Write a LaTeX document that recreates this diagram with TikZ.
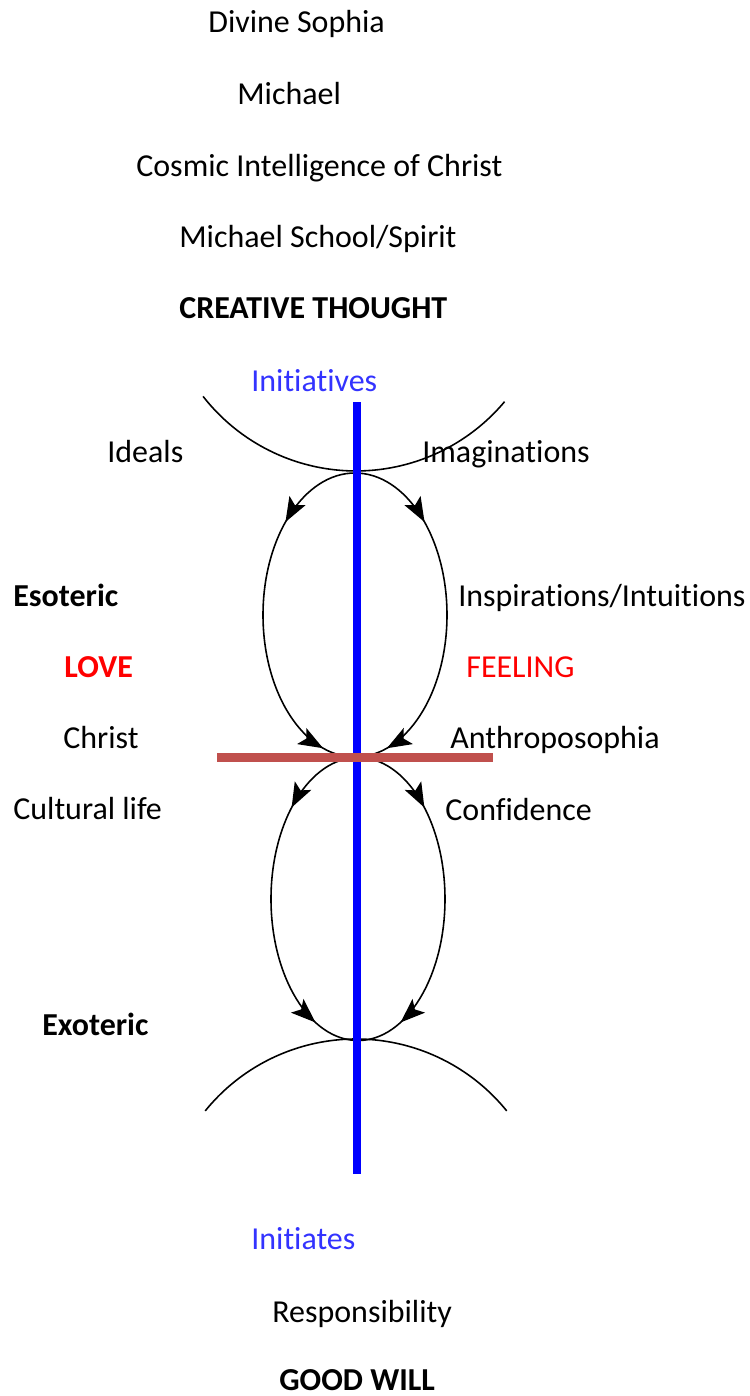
\documentclass[tikz,border=0pt]{standalone}
\usepackage{fontspec}
\setmainfont{Carlito}[Ligatures=NoCommon]
\usetikzlibrary{arrows.meta, decorations.markings}

\definecolor{initblue}{RGB}{51,51,255}
\definecolor{axisblue}{RGB}{0,0,255}
\definecolor{barred}{RGB}{192,80,77}

\begin{document}
\begin{tikzpicture}[x=0.02cm, y=-0.02cm,
    >={Stealth[length=14pt, width=10.5pt, inset=3pt]},
    lbl/.style={anchor=base west, inner sep=0pt, font=\fontsize{18.2}{21}\selectfont},
    bold/.style={lbl, font=\fontsize{18.2}{21}\selectfont\bfseries},
    loopline/.style={line width=0.9pt, postaction={decorate}},
    thinarc/.style={line width=0.9pt}]
    \useasboundingbox (0,0) rectangle (750,1396);

    % top column
    \node [lbl] (divsophia) at (208,32) {Divine Sophia};
    \node [lbl] (michael) at (237,104) {Michael};
    \node [lbl] (cosmic) at (136,176) {Cosmic Intelligence of Christ};
    \node [lbl] (school) at (179,247) {Michael School/Spirit};
    \node [bold] (creative) at (179,318) {CREATIVE THOUGHT};
    \node [lbl, text=initblue] (initiatives) at (251,391) {Initiatives};

    % left side
    \node [lbl] (ideals) at (107,462) {Ideals};
    \node [bold] (esoteric) at (13,606) {Esoteric};
    \node [bold, text=red] (love) at (64,677) {LOVE};
    \node [lbl] (christ) at (63,748) {Christ};
    \node [lbl] (cultural) at (13,819) {Cultural life};
    \node [bold] (exoteric) at (42,1035) {Exoteric};

    % right side
    \node [lbl] (imaginations) at (422,462) {Imaginations};
    \node [lbl] (inspirations) at (458,606) {Inspirations/Intuitions};
    \node [lbl, text=red] (feeling) at (466,677) {FEELING};
    \node [lbl] (anthro) at (450,748) {Anthroposophia};
    \node [lbl] (confidence) at (445,820) {Confidence};

    % bottom column
    \node [lbl, text=initblue] (initiates) at (251,1249) {Initiates};
    \node [lbl] (responsib) at (272,1322) {Responsibility};
    \node [bold] (goodwill) at (279,1390) {GOOD WILL};

    % points on the figure
    \coordinate (uptop) at (355,473);
    \coordinate (lowtop) at (358,757.5);
    \coordinate (arcTL) at (203.1,396.4);
    \coordinate (arcBL) at (205.2,1110.9);
    \coordinate (axistop) at (357,402);
    \coordinate (axisbot) at (357,1174);
    \coordinate (barL) at (217,757.5);
    \coordinate (barR) at (493,757.5);

    % upper loop
    \draw [loopline, decoration={markings,
        mark=at position 0.24 with {\arrow{>}},
        mark=at position 0.91 with {\arrow{>}}}]
      (uptop) arc[start angle=270, end angle=90, x radius=92, y radius=142];
    \draw [loopline, decoration={markings,
        mark=at position 0.24 with {\arrow{>}},
        mark=at position 0.91 with {\arrow{>}}}]
      (uptop) arc[start angle=270, end angle=450, x radius=92, y radius=142];

    % lower loop
    \draw [loopline, decoration={markings,
        mark=at position 0.24 with {\arrow{>}},
        mark=at position 0.87 with {\arrow{>}}}]
      (lowtop) arc[start angle=270, end angle=90, x radius=87, y radius=141.5];
    \draw [loopline, decoration={markings,
        mark=at position 0.24 with {\arrow{>}},
        mark=at position 0.87 with {\arrow{>}}}]
      (lowtop) arc[start angle=270, end angle=450, x radius=87, y radius=141.5];

    % big arcs
    \draw [thinarc] (arcTL) arc[start angle=142, end angle=40, radius=194];
    \draw [thinarc] (arcBL) arc[start angle=219, end angle=321, radius=194];

    % axis and bar
    \draw [axisblue, line width=4.2pt] (axistop) -- (axisbot);
    \draw [barred, line width=4.7pt] (barL) -- (barR);
\end{tikzpicture}
\end{document}
